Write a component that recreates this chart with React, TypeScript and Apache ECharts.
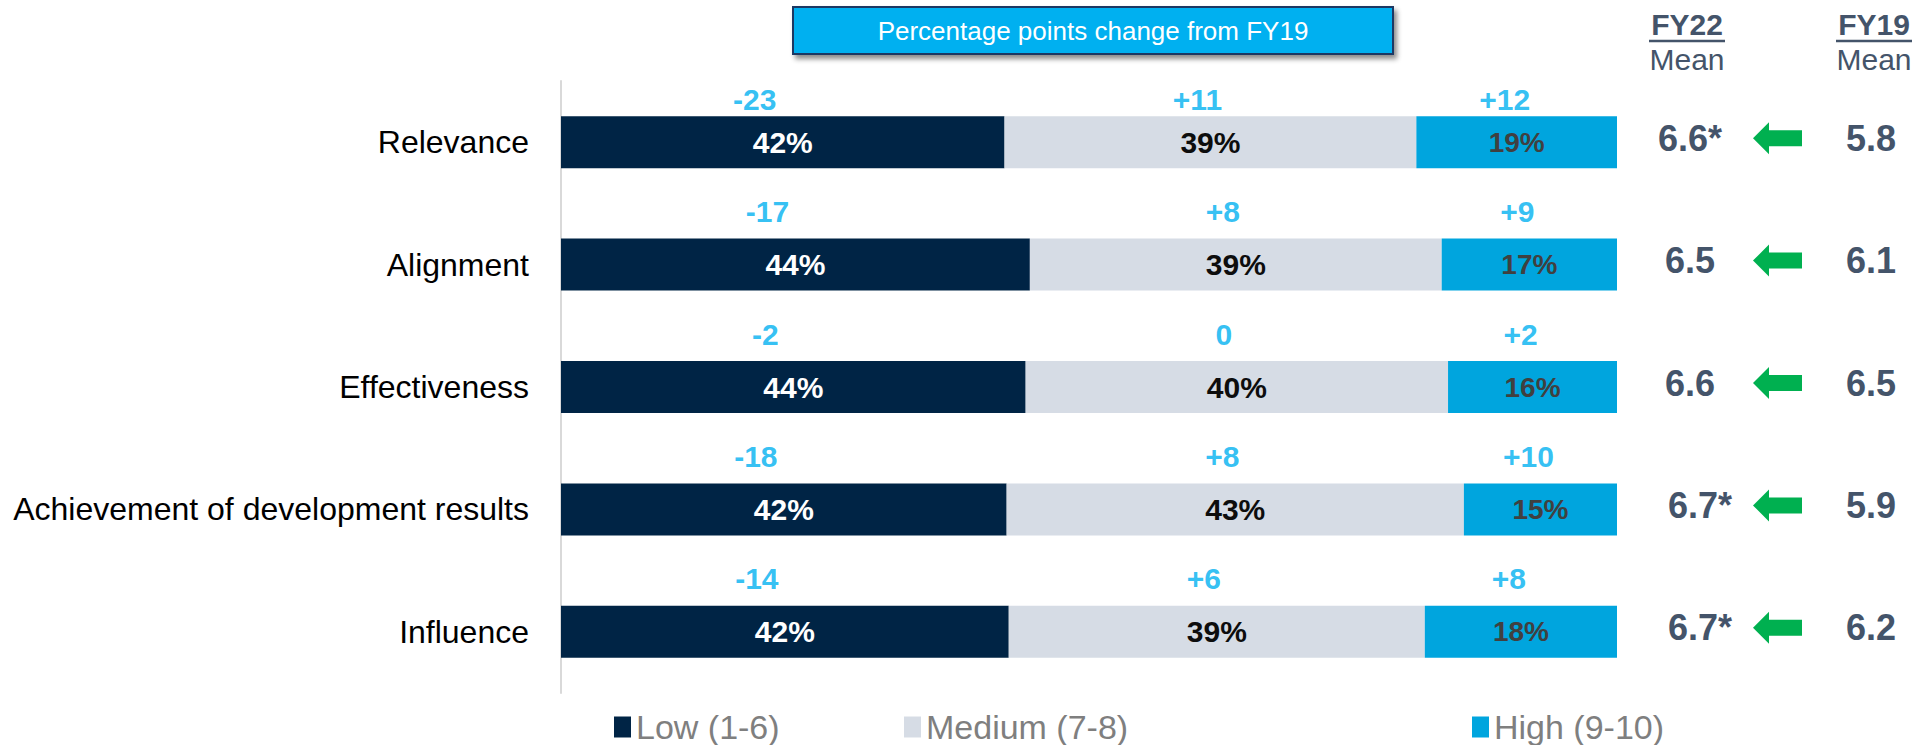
import React, { useEffect, useRef } from "react";
import * as echarts from "echarts";

const categories = ["Relevance", "Alignment", "Effectiveness", "Achievement of development results", "Influence"];
const seriesNames = ["Low (1-6)", "Medium (7-8)", "High (9-10)"];
const lowShare = [42, 44.4, 44, 42.2, 42.4];
const mediumShare = [39, 39, 40, 43.3, 39.4];
const highShare = [19, 16.6, 16, 14.5, 18.2];
const lowChange = [-23, -17, -2, -18, -14];
const mediumChange = [11, 8, 0, 8, 6];
const highChange = [12, 9, 2, 10, 8];
const fy22Mean = [6.6, 6.5, 6.6, 6.7, 6.7];
const fy22Significant = [true, false, false, true, true];
const fy19Mean = [5.8, 6.1, 6.5, 5.9, 6.2];

const FONT = "'Liberation Sans', Arial, Helvetica, sans-serif";
const COLORS = ["#002445", "#d6dce5", "#00a5de"];
const SLATE = "#44546a";

const fmtChange = (v: number) => (v > 0 ? "+" + v : String(v));

export default function App() {
  const ref = useRef<HTMLDivElement>(null);
  useEffect(() => {
    document.body.style.margin = "0";
    const chart = echarts.init(ref.current!, null, { renderer: "svg" });
    const shares = [lowShare, mediumShare, highShare];
    const changes = [lowChange, mediumChange, highChange];
    const labelColors = ["#ffffff", "#0d0d0d", "#404040"];
    const labelSizes = [30, 30, 28];
    const changeDx = [-28, -13, -12];

    const barSeries = shares.map((arr, s) => ({
      name: seriesNames[s],
      type: "bar",
      stack: "total",
      barWidth: 52,
      data: arr,
      itemStyle: { color: COLORS[s] },
      label: {
        show: true,
        position: "inside",
        formatter: (p: any) => Math.round(p.value) + "%",
        color: labelColors[s],
        fontSize: labelSizes[s],
        fontWeight: "bold",
        fontFamily: FONT,
      },
      silent: true,
    }));

    const changeSeries = shares.map((arr, s) => ({
      name: "change" + s,
      type: "scatter",
      symbol: "circle",
      symbolSize: 1,
      itemStyle: { color: "rgba(255,255,255,0)" },
      silent: true,
      z: 5,
      data: arr.map((v, i) => {
        let start = 0;
        for (let k = 0; k < s; k++) start += shares[k][i];
        return {
          value: [start + v / 2, i],
          change: changes[s][i],
          label: { offset: [changeDx[s], i === 0 ? -43 : -53] },
        };
      }),
      label: {
        show: true,
        position: "inside",
        formatter: (p: any) => fmtChange(p.data.change),
        color: "#00b0f0",
        fontSize: 30,
        fontWeight: "bold",
        fontFamily: FONT,
      },
    }));

    const legendLefts = [614, 904, 1472];
    const legends = seriesNames.map((n, i) => ({
      data: [n],
      left: legendLefts[i],
      top: 710,
      padding: 0,
      icon: "rect",
      itemWidth: 17,
      itemHeight: 21,
      selectedMode: false,
      textStyle: { fontSize: 34, color: "#7f7f7f", fontFamily: FONT },
    }));

    chart.setOption({
      animation: false,
      backgroundColor: "#ffffff",
      grid: { left: 561, right: 311, top: 81, height: 612 },
      xAxis: { type: "value", min: 0, max: 100, show: false },
      yAxis: {
        type: "category",
        data: categories,
        inverse: true,
        axisLine: { show: true, lineStyle: { color: "#d9d9d9", width: 2 } },
        axisTick: { show: false },
        axisLabel: { fontSize: 32, color: "#000000", fontFamily: FONT, margin: 32 },
      },
      legend: legends,
      series: [...barSeries, ...changeSeries],
    });

    const rowY = categories.map((c) => chart.convertToPixel({ yAxisIndex: 0 }, c) as number);
    const graphic: any[] = [
      {
        type: "rect",
        shape: { x: 793, y: 7, width: 600, height: 47 },
        style: {
          fill: "#00b0f0",
          stroke: "#1f3864",
          lineWidth: 2,
          shadowBlur: 5,
          shadowOffsetX: 3,
          shadowOffsetY: 4,
          shadowColor: "rgba(0,0,0,0.45)",
        },
      },
      {
        type: "text",
        x: 1093,
        y: 31,
        style: {
          text: "Percentage points change from FY19",
          fill: "#ffffff",
          fontSize: 26,
          fontFamily: FONT,
          align: "center",
          verticalAlign: "middle",
        },
      },
    ];
    const headers = [
      { t: "FY22", x: 1687 },
      { t: "FY19", x: 1874 },
    ];
    headers.forEach((h) => {
      graphic.push({
        type: "text",
        x: h.x,
        y: 24,
        style: { text: h.t, fill: SLATE, fontSize: 30, fontWeight: "bold", fontFamily: FONT, align: "center", verticalAlign: "middle" },
      });
      graphic.push({
        type: "line",
        shape: { x1: h.x - 38, y1: 41, x2: h.x + 38, y2: 41 },
        style: { stroke: SLATE, lineWidth: 2.5 },
      });
      graphic.push({
        type: "text",
        x: h.x,
        y: 59,
        style: { text: "Mean", fill: SLATE, fontSize: 30, fontFamily: FONT, align: "center", verticalAlign: "middle" },
      });
    });
    rowY.forEach((y0, i) => {
      const y = y0 - 4;
      graphic.push({
        type: "text",
        x: 1690 + (fy22Significant[i] && i > 2 ? 10 : 0),
        y,
        style: {
          text: fy22Mean[i].toFixed(1) + (fy22Significant[i] ? "*" : ""),
          fill: SLATE,
          fontSize: 36,
          fontWeight: "bold",
          fontFamily: FONT,
          align: "center",
          verticalAlign: "middle",
        },
      });
      graphic.push({
        type: "polygon",
        shape: {
          points: [
            [1753, y],
            [1769, y - 16],
            [1769, y - 8],
            [1802, y - 8],
            [1802, y + 8],
            [1769, y + 8],
            [1769, y + 16],
          ],
        },
        style: { fill: "#00b050" },
      });
      graphic.push({
        type: "text",
        x: 1871,
        y,
        style: {
          text: fy19Mean[i].toFixed(1),
          fill: SLATE,
          fontSize: 36,
          fontWeight: "bold",
          fontFamily: FONT,
          align: "center",
          verticalAlign: "middle",
        },
      });
    });
    chart.setOption({ graphic });

    return () => chart.dispose();
  }, []);
  return <div ref={ref} style={{ width: 1928, height: 745 }} />;
}
